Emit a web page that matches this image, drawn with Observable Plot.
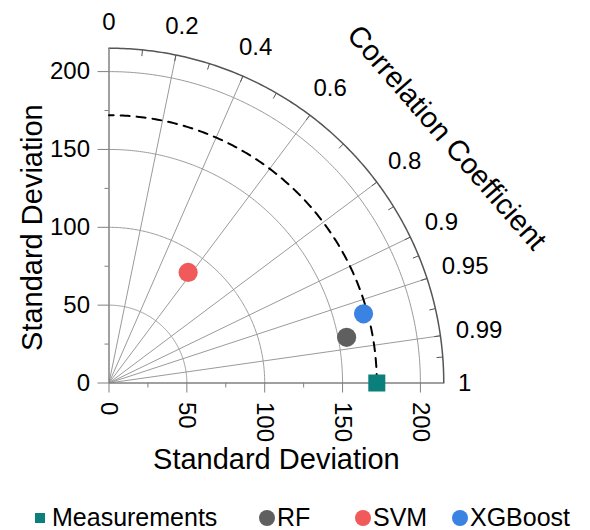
<!DOCTYPE html>
<html><head><meta charset="utf-8">
<script src="https://cdn.jsdelivr.net/npm/d3@7"></script>
<script src="https://cdn.jsdelivr.net/npm/@observablehq/plot@0.6"></script>
<style>
body{margin:0;background:#fff;font-family:"Liberation Sans",Arial,sans-serif;}
#legend{position:relative;width:590px;height:40px;font-size:25px;color:#000;}
.item{position:absolute;top:13px;height:29px;display:flex;align-items:center;white-space:nowrap;}
.mk{display:inline-block;flex:none;}
</style></head><body>
<div id="chart"></div>
<div id="legend"></div>
<script>
// ---- data ----
const models = ["Measurements", "RF", "SVM", "XGBoost"];
const stdDev = [172, 155.4, 87.3, 169.4];
const correlation = [1, 0.982, 0.582, 0.965];
const colors = ["#0b7f7b", "#5f5f5f", "#f05a5a", "#3a83e2"];
const symbols = ["square", "circle", "circle", "circle"];
const gridRadii = [50, 100, 150, 200];
const corrRays = [0.2, 0.4, 0.6, 0.8, 0.9, 0.95, 0.99];
const corrMinor = [0.1, 0.3, 0.5, 0.7, 0.85, 0.925, 0.975, 0.997];
const corrLabels = [0, 0.2, 0.4, 0.6, 0.8, 0.9, 0.95, 0.99, 1];
const sdTicks = [0, 50, 100, 150, 200];
const sdMinor = [25, 75, 125, 175];
const rMax = 215;

// ---- helpers ----
const FONT = '"Liberation Sans", Arial, sans-serif';
const sinOf = c => Math.sqrt(Math.max(0, 1 - c * c));
const arc = r => d3.range(0, 90.25, 0.5).map(a => ({r, x: r * Math.cos(a * Math.PI / 180), y: r * Math.sin(a * Math.PI / 180)}));
const gridArcs = gridRadii.flatMap(arc);
const points = models.map((m, i) => ({model: m, x: stdDev[i] * correlation[i], y: stdDev[i] * sinOf(correlation[i])}));

const W = 590, H = 490, k = 1.557;
const ml = 108.5, mb = H - 382.5;
const LFS = 24;
// label centre sits just outside the outer arc: half the label's extent along the ray
const halfW = c => LFS * (0.556 * String(c).replace(".", "").length + 0.278 * (String(c).includes(".") ? 1 : 0)) / 2;
const labelR = c => (349 + halfW(c) * c + 12 * sinOf(c)) / k;

const plot = Plot.plot({
  width: W, height: H,
  marginLeft: ml, marginRight: W - (ml + rMax * k),
  marginTop: 382.5 - rMax * k, marginBottom: mb,
  style: {fontFamily: FONT, background: "#fff", color: "#000"},
  x: {domain: [0, rMax]},
  y: {domain: [0, rMax]},
  color: {domain: models, range: colors},
  symbol: {domain: models, range: symbols},
  marks: [
    Plot.line(gridArcs, {x: "x", y: "y", z: "r", stroke: "#9a9a9a", strokeWidth: 1}),
    Plot.link(corrRays, {x1: 0, y1: 0, x2: c => rMax * c, y2: c => rMax * sinOf(c), stroke: "#9a9a9a", strokeWidth: 1}),
    Plot.line(arc(rMax), {x: "x", y: "y", stroke: "#555", strokeWidth: 1.5}),
    Plot.link(corrMinor.concat(corrRays), {x1: c => rMax * c, y1: c => rMax * sinOf(c), x2: c => (rMax - 4) * c, y2: c => (rMax - 4) * sinOf(c), stroke: "#555", strokeWidth: 1}),
    Plot.ruleY([0], {x1: 0, x2: rMax, stroke: "#808080", strokeWidth: 1.5}),
    Plot.ruleX([0], {y1: 0, y2: rMax, stroke: "#808080", strokeWidth: 1.5}),
    Plot.axisX(sdTicks, {anchor: "bottom", tickSize: 10, tickPadding: 9, tickRotate: 90, fontSize: 24, stroke: "#808080", fill: "#000", label: null}),
    Plot.axisX(sdMinor, {anchor: "bottom", tickSize: 5, tickFormat: () => "", stroke: "#808080", label: null}),
    Plot.axisY(sdTicks, {anchor: "left", tickSize: 11, tickPadding: 8, fontSize: 24, stroke: "#808080", fill: "#000", label: null}),
    Plot.axisY(sdMinor, {anchor: "left", tickSize: 4, tickFormat: () => "", stroke: "#808080", label: null}),
    Plot.line(arc(stdDev[0]), {x: "x", y: "y", stroke: "#000", strokeWidth: 2, strokeDasharray: "9,7"}),
    Plot.text(corrLabels, {x: c => labelR(c) * c, y: c => labelR(c) * sinOf(c), text: c => String(c), textAnchor: "middle", lineAnchor: "middle", fontSize: LFS, fill: "#000"}),
    Plot.text(["Correlation Coefficient"], {x: 268 * Math.cos(36 * Math.PI / 180), y: 268 * Math.sin(36 * Math.PI / 180), rotate: 49, textAnchor: "middle", lineAnchor: "middle", fontSize: 29, fill: "#000"}),
    Plot.text(["Standard Deviation"], {x: rMax / 2, y: 0, dy: 77, textAnchor: "middle", lineAnchor: "middle", fontSize: 29, fill: "#000"}),
    Plot.text(["Standard Deviation"], {x: 0, y: rMax / 2, dx: -76, dy: 12, rotate: -90, textAnchor: "middle", lineAnchor: "middle", fontSize: 29, fill: "#000"}),
    Plot.dot(points, {x: "x", y: "y", fill: "model", symbol: "model", r: 9.6, stroke: null})
  ]
});
document.getElementById("chart").appendChild(plot);

// ---- legend ----
const legendLeft = [35, 259, 355, 452];
const legend = document.getElementById("legend");
models.forEach((m, i) => {
  const it = document.createElement("div");
  it.className = "item";
  it.style.left = legendLeft[i] + "px";
  const mk = document.createElement("span");
  mk.className = "mk";
  const s = symbols[i] === "square" ? 10 : 16;
  mk.style.width = s + "px"; mk.style.height = s + "px";
  mk.style.background = colors[i];
  mk.style.borderRadius = symbols[i] === "square" ? "0" : "50%";
  mk.style.marginRight = (symbols[i] === "square" ? 7 : 2) + "px";
  const tx = document.createElement("span");
  tx.textContent = m;
  it.appendChild(mk); it.appendChild(tx);
  legend.appendChild(it);
});
</script>
</body></html>
